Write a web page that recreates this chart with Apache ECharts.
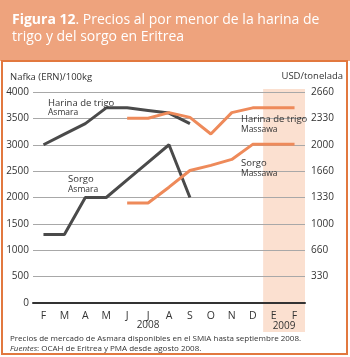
<!DOCTYPE html>
<html>
<head>
<meta charset="utf-8">
<script src="https://cdn.jsdelivr.net/npm/echarts@6/dist/echarts.min.js"></script>
<style>
  html, body { margin: 0; padding: 0; background: #fff; }
  #chart { width: 350px; height: 357px; }
</style>
</head>
<body>
<div id="chart"></div>
<script>
// months Feb 2008 .. Feb 2009
var months = ['F', 'M', 'A', 'M', 'J', 'J', 'A', 'S', 'O', 'N', 'D', 'E', 'F'];
var rightLabels = ['', '330', '660', '1000', '1330', '1660', '2000', '2330', '2660'];

// Asmara, ERN / 100kg (left axis)
var harinaAsmara = [3000, 3200, 3400, 3700, 3700, 3650, 3600, 3400, null, null, null, null, null];
var sorgoAsmara = [1300, 1300, 2000, 2000, 2333, 2667, 3000, 2000, null, null, null, null, null];
// Massawa, USD / tonelada (right axis)
var harinaMassawa = [null, null, null, null, 2330, 2330, 2400, 2340, 2130, 2400, 2460, 2460, 2460];
var sorgoMassawa = [null, null, null, null, 1260, 1260, 1460, 1670, 1735, 1810, 2000, 2000, 2000];

var FONT = 'Open Sans';
var dark = '#4a4a4a';
var orange = '#ee8a5a';

var chart = echarts.init(document.getElementById('chart'));

function lineSeries (data, color, axis) {
  return {
    type: 'line',
    yAxisIndex: axis,
    data: data,
    symbol: 'none',
    connectNulls: false,
    lineStyle: { color: color, width: 3 },
    z: 3
  }
}

chart.setOption({
  animation: false,
  textStyle: { fontFamily: FONT },
  grid: { left: 33, right: 45, top: 92, bottom: 54 },
  xAxis: {
    type: 'category',
    data: months,
    boundaryGap: true,
    axisLine: { lineStyle: { color: '#333', width: 2 } },
    axisTick: { alignWithLabel: true, inside: true, length: 5, lineStyle: { color: '#333', width: 1.5 } },
    axisLabel: { color: '#333', fontSize: 10.5, margin: 8, fontFamily: FONT },
    splitLine: { show: false }
  },
  yAxis: [{
    type: 'value',
    min: 0,
    max: 4000,
    interval: 500,
    axisLine: { show: false },
    axisTick: { show: false },
    axisLabel: { color: '#333', fontSize: 10, margin: 4, fontFamily: FONT, formatter: function (v) { return String(v) } },
    splitLine: { lineStyle: { color: '#a8a8a8', width: 1 } }
  }, {
    type: 'value',
    position: 'right',
    min: 0,
    max: 2660,
    interval: 332.5,
    axisLine: { show: false },
    axisTick: { show: false },
    splitLine: { show: false },
    axisLabel: {
      color: '#333',
      fontSize: 10,
      margin: 6,
      fontFamily: FONT,
      formatter: function (v) { return rightLabels[Math.round(v / 332.5)] }
    }
  }],
  series: [
    lineSeries(harinaAsmara, dark, 0),
    lineSeries(sorgoAsmara, dark, 0),
    lineSeries(harinaMassawa, orange, 1),
    lineSeries(sorgoMassawa, orange, 1)
  ]
});

// positions taken from the axes for shading and year labels
var pF = chart.convertToPixel({ gridIndex: 0 }, [0, 4000]);
var pM = chart.convertToPixel({ gridIndex: 0 }, [1, 0]);
var band = pM[0] - pF[0];
var pD = chart.convertToPixel({ gridIndex: 0 }, [10, 0]);
var pE = chart.convertToPixel({ gridIndex: 0 }, [11, 0]);
var pF2 = chart.convertToPixel({ gridIndex: 0 }, [12, 0]);
var shadeX = pE[0] - band / 2;
var shadeW = pF2[0] + band / 2 - shadeX;

function txt (x, y, s, size, align) {
  return {
    type: 'text',
    x: x,
    y: y,
    z: 5,
    style: { text: s, fill: '#333', font: size + 'px "' + FONT + '"', textAlign: align || 'left', textVerticalAlign: 'middle' }
  }
}

chart.setOption({
  graphic: [
    { type: 'rect', z: -12, shape: { x: 0, y: 0, width: 350, height: 61 }, style: { fill: '#eea37d' } },
    { type: 'rect', z: -12, shape: { x: 2, y: 61, width: 345, height: 293 }, style: { fill: '#fff', stroke: '#e2783f', lineWidth: 2 } },
    { type: 'rect', z: -11, shape: { x: shadeX, y: pF[1] - 3, width: shadeW, height: 332 - (pF[1] - 3) }, style: { fill: '#fbe0d0' } },
    {
      type: 'text',
      x: 12,
      y: 12,
      z: 5,
      style: {
        text: '{b|Figura 12}{n|. Precios al por menor de la harina de}\n{n|trigo y del sorgo en Eritrea}',
        rich: {
          b: { fill: '#fff', fontSize: 14, fontWeight: 'bold', fontFamily: FONT, lineHeight: 17 },
          n: { fill: '#fff', fontSize: 14, fontFamily: FONT, lineHeight: 17 }
        }
      }
    },
    txt(10, 77, 'Nafka (ERN)/100kg', 9.5),
    txt(343, 76, 'USD/tonelada', 9.5, 'right'),
    txt(48, 103, 'Harina de trigo', 9.5),
    txt(48, 113, 'Asmara', 8.5),
    txt(68, 179, 'Sorgo', 9.5),
    txt(68, 190, 'Asmara', 8.5),
    txt(241, 119, 'Harina de trigo', 9.5),
    txt(241, 130, 'Massawa', 8.5),
    txt(241, 163, 'Sorgo', 9.5),
    txt(241, 174, 'Massawa', 8.5),
    txt((pF[0] + pD[0]) / 2, 325, '2008', 10, 'center'),
    txt((pE[0] + pF2[0]) / 2, 326, '2009', 10, 'center'),
    {
      type: 'text',
      x: 10,
      y: 333,
      z: 5,
      style: {
        text: '{n|Precios de mercado de Asmara disponibles en el SMIA hasta septiembre 2008.}\n{i|Fuentes}{n|: OCAH de Eritrea y PMA desde agosto 2008.}',
        rich: {
          n: { fill: '#333', fontSize: 8, fontFamily: FONT, lineHeight: 10.5 },
          i: { fill: '#333', fontSize: 8, fontStyle: 'italic', fontFamily: FONT, lineHeight: 10.5 }
        }
      }
    }
  ]
});
</script>
</body>
</html>
